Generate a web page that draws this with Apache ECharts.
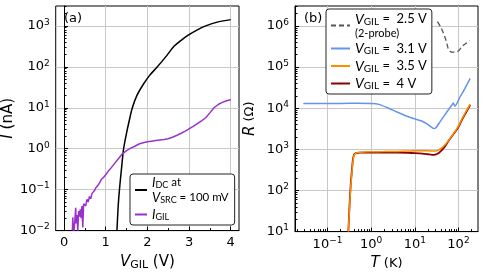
<!DOCTYPE html>
<html><head><meta charset="utf-8">
<script src="https://cdn.jsdelivr.net/npm/echarts@6/dist/echarts.min.js"></script>
<style>html,body{margin:0;padding:0;background:#fff}#c{width:485px;height:276px}</style>
</head><body><div id="c"></div>
<script>
// ---- Panel (a): I vs V_GIL ----
const vDC = [1.27,1.30,1.33,1.38,1.43,1.50,1.57,1.64,1.75,1.90,2.05,2.24,2.45,2.64,2.82,2.99,3.2,3.4,3.7,4.0];
const iDC = [0.01,0.04,0.1,0.33,1,2.4,5.1,10,20,37,61,100,180,316,450,600,800,1000,1250,1420];
const vGIL = [0.20,0.21,0.22,0.24,0.26,0.28,0.29,0.31,0.33,0.35,0.37,0.39,0.41,0.43,0.45,0.47,0.49,0.52,0.55,0.58,0.61,0.64,0.67,0.70,0.73,0.76,0.79,0.82,0.86,0.90,0.95,1.00,1.06,1.13,1.20,1.30,1.40,1.50,1.60,1.70,1.80,1.90,2.00,2.10,2.20,2.30,2.40,2.50,2.60,2.70,2.80,2.90,3.00,3.10,3.20,3.30,3.40,3.50,3.60,3.70,3.80,3.90,4.00];
const iGIL = [0.01,0.021,0.012,0.01,0.018,0.036,0.015,0.024,0.01,0.03,0.022,0.033,0.02,0.04,0.012,0.045,0.05,0.04,0.058,0.05,0.068,0.06,0.08,0.075,0.095,0.11,0.1,0.13,0.15,0.18,0.2,0.23,0.28,0.34,0.42,0.56,0.75,0.9,1.03,1.15,1.3,1.4,1.47,1.53,1.58,1.63,1.68,1.75,1.9,2.1,2.35,2.65,3.05,3.5,4.1,4.8,5.7,7.5,10,12,13.5,14.8,15.6];
const xTicksA = [0,1,2,3,4];
const xMinorA = [0.5,1.5,2.5,3.5];
const yTicksA = [0.01,0.1,1,10,100,1000];

// ---- Panel (b): R vs T ----
const tP25 = [33,40,45,50,54,59,65,72,80,91,105,118,140,160,180];
const rP25 = [1.27e6,9e5,6.7e5,5e5,3.8e5,2.7e5,2.4e5,2.3e5,2.3e5,2.35e5,2.6e5,3.1e5,3.6e5,4.0e5,4.4e5];
const t31 = [0.028,0.05,0.1,0.2,0.5,1.0,1.5,2.3,3.9,6.6,9.3,14.4,18.6,24.5,27,30,38,54,70,76,83,109,140,185];
const r31 = [1.3e4,1.3e4,1.3e4,1.31e4,1.32e4,1.3e4,1.24e4,1.04e4,8.1e3,6.4e3,5.6e3,4.9e3,4.2e3,3.4e3,3.2e3,3.3e3,4.7e3,8.1e3,1.18e4,1.34e4,1.12e4,1.9e4,3e4,5.3e4];
const t35 = [0.30,0.32,0.34,0.36,0.38,0.40,0.43,0.47,0.55,0.7,1.0,2,4,7,10,15,20,27,33,40,48,58,70,85,100,120,150,185];
const r35 = [10,40,120,250,480,680,780,830,855,865,875,880,890,905,920,925,920,905,930,1050,1250,1600,2100,2800,3700,5500,8500,12500];
const t40 = [0.30,0.32,0.34,0.36,0.38,0.40,0.43,0.47,0.55,0.7,1.0,2,4,7,10,15,20,27,33,40,48,58,70,85,100,120,150,185];
const r40 = [10,45,140,290,540,720,790,815,830,835,835,830,830,820,810,790,760,730,780,920,1150,1550,2050,2700,3500,5200,8000,12000];
const xTicksB = [0.1,1,10,100];
const yTicksB = [10,100,1000,1e4,1e5,1e6];

function minorLog(decades){const out=[];decades.forEach(d=>{for(let k=2;k<=9;k++)out.push(+(k*d).toPrecision(6));});return out;}
const xMinorB = minorLog([0.01,0.1,1,10,100]);
const yMinorA = minorLog([0.01,0.1,1,10,100,1000]);
const yMinorB = minorLog([10,100,1000,1e4,1e5,1e6]);

const zip = (a,b)=>a.map((x,i)=>[x,b[i]]);
const FONT = 'DejaVu Sans';
const LF = 'Lato';
const supFmt = v => { const e = Math.round(Math.log10(v)); return '{b|10}{s|' + (e<0 ? '\u2212' + (-e) : e) + '}'; };
const supRich = { b:{fontSize:13,fontFamily:FONT,color:'#000',lineHeight:16}, s:{fontSize:9,fontFamily:FONT,color:'#000',verticalAlign:'top',lineHeight:10} };
const nameRich = {
  i:{fontSize:15,fontStyle:'italic',fontFamily:FONT,color:'#000',lineHeight:18},
  sub:{fontSize:11,fontFamily:FONT,color:'#000',verticalAlign:'bottom',lineHeight:13},
  t:{fontSize:15,fontFamily:FONT,color:'#000',lineHeight:18},
  ts:{fontSize:13,fontFamily:FONT,color:'#000',lineHeight:18}
};
const legRich = {
  i:{fontSize:13,fontStyle:'italic',fontFamily:LF,color:'#000',lineHeight:15},
  sub:{fontSize:9,fontFamily:LF,color:'#000',verticalAlign:'bottom',lineHeight:10},
  t:{fontSize:11.5,fontFamily:LF,color:'#000',lineHeight:15},
  I:{fontSize:14,fontStyle:'italic',fontFamily:LF,color:'#000',lineHeight:15},
  S:{fontSize:10,fontFamily:LF,color:'#000',verticalAlign:'bottom',lineHeight:10},
  T:{fontSize:13,fontFamily:LF,color:'#000',lineHeight:15},
  p:{fontSize:11,fontFamily:LF,color:'#000',lineHeight:13}
};
const legendText = {
  idc: '{i|I}{sub|DC}{t| at}\n{i|V}{sub|SRC}{t| = 100 mV}',
  igil: '{i|I}{sub|GIL}',
  p25: '{I|V}{S|GIL}{T| =  2.5 V}\n{p|(2-probe)}',
  v31: '{I|V}{S|GIL}{T| =  3.1 V}',
  v35: '{I|V}{S|GIL}{T| =  3.5 V}',
  v40: '{I|V}{S|GIL}{T| =  4 V}'
};

const gridLine = {show:true,lineStyle:{color:'#c8c8c8',width:1}};
const axLine = {show:true,lineStyle:{color:'#000',width:1}};
function mainAxis(o){return Object.assign({axisLine:axLine,splitLine:gridLine,nameLocation:'middle',nameTextStyle:{rich:nameRich}},o);}
function minorAxis(o){return Object.assign({axisLine:{show:false},splitLine:{show:false},axisLabel:{show:false}},o);}
const majTick = vals => ({show:true,inside:true,length:4,customValues:vals,lineStyle:{color:'#000'}});
const minTick = vals => ({show:true,inside:true,length:2.5,customValues:vals,lineStyle:{color:'#000'}});

const option = {
  animation:false,
  grid:[
    {left:55,top:6,width:184,height:226,show:true,borderColor:'#000',borderWidth:1,backgroundColor:'transparent'},
    {left:295,top:6,width:183,height:226,show:true,borderColor:'#000',borderWidth:1,backgroundColor:'transparent'}
  ],
  xAxis:[
    mainAxis({gridIndex:0,type:'value',min:-0.2,max:4.2,position:'bottom',axisTick:majTick(xTicksA),
      axisLabel:{customValues:xTicksA,fontSize:13,fontFamily:FONT,color:'#000',margin:6},
      name:'{i|V}{sub|GIL}{t| (V)}',nameGap:22}),
    minorAxis({gridIndex:0,type:'value',min:-0.2,max:4.2,position:'bottom',axisTick:minTick(xMinorA)}),
    mainAxis({gridIndex:1,type:'log',min:0.018,max:280,position:'bottom',axisTick:majTick(xTicksB),
      axisLabel:{customValues:xTicksB,formatter:supFmt,rich:supRich,margin:5},
      name:'{i|T}{ts| (K)}',nameGap:22}),
    minorAxis({gridIndex:1,type:'log',min:0.018,max:280,position:'bottom',axisTick:minTick(xMinorB)})
  ],
  yAxis:[
    mainAxis({gridIndex:0,type:'log',min:0.01,max:3055,position:'left',axisTick:majTick(yTicksA),
      axisLabel:{customValues:yTicksA,formatter:supFmt,rich:supRich,margin:6},
      name:'{i|I}{t| (nA)}',nameGap:36}),
    minorAxis({gridIndex:0,type:'log',min:0.01,max:3055,position:'left',axisTick:minTick(yMinorA)}),
    mainAxis({gridIndex:1,type:'log',min:10,max:3055000,position:'left',axisTick:majTick(yTicksB),
      axisLabel:{customValues:yTicksB,formatter:supFmt,rich:supRich,margin:6},
      name:'{i|R}{ts| (\u03A9)}',nameGap:36}),
    minorAxis({gridIndex:1,type:'log',min:10,max:3055000,position:'left',axisTick:minTick(yMinorB)})
  ],
  legend:[
    {left:130,top:174,orient:'vertical',data:['idc','igil'],formatter:n=>legendText[n],selectedMode:false,
      backgroundColor:'#fff',borderColor:'#222',borderWidth:1,borderRadius:3,padding:[2,6,3,4],
      itemWidth:12,itemHeight:2,itemGap:3,textStyle:{rich:legRich}},
    {left:326,top:9,orient:'vertical',data:['p25','v31','v35','v40'],formatter:n=>legendText[n],selectedMode:false,
      backgroundColor:'#fff',borderColor:'#222',borderWidth:1,borderRadius:3,padding:[3,5,3,4],
      itemWidth:19,itemHeight:2,itemGap:3,textStyle:{rich:legRich}}
  ],
  graphic:[
    {type:'text',left:64,top:12,style:{text:'(a)',fontSize:13,fontFamily:FONT,fill:'#000'}},
    {type:'text',left:304,top:12,style:{text:'(b)',fontSize:13,fontFamily:FONT,fill:'#000'}}
  ],
  series:[
    {name:'idc',type:'line',xAxisIndex:0,yAxisIndex:0,data:zip(vDC,iDC),symbol:'none',smooth:0.3,lineStyle:{color:'#000',width:1.5},itemStyle:{color:'#000'},clip:true},
    {name:'igil',type:'line',xAxisIndex:0,yAxisIndex:0,data:zip(vGIL,iGIL),symbol:'none',lineStyle:{color:'#9932CC',width:1.5},itemStyle:{color:'#9932CC'},clip:true},
    {name:'p25',type:'line',xAxisIndex:2,yAxisIndex:2,data:zip(tP25,rP25),symbol:'none',smooth:0.3,lineStyle:{color:'#555',width:1.3,type:[5,3]},itemStyle:{color:'#555'},clip:true},
    {name:'v31',type:'line',xAxisIndex:2,yAxisIndex:2,data:zip(t31,r31),symbol:'none',smooth:0.2,lineStyle:{color:'#6495ED',width:1.5},itemStyle:{color:'#6495ED'},clip:true},
    {name:'v40',type:'line',xAxisIndex:2,yAxisIndex:2,data:zip(t40,r40),symbol:'none',smooth:0.2,lineStyle:{color:'#8B0000',width:1.8},itemStyle:{color:'#8B0000'},clip:true},
    {name:'v35',type:'line',xAxisIndex:2,yAxisIndex:2,data:zip(t35,r35),symbol:'none',smooth:0.2,lineStyle:{color:'#FF8C00',width:1.5},itemStyle:{color:'#FF8C00'},clip:true}
  ]
};
echarts.init(document.getElementById('c'),null,{renderer:'canvas'}).setOption(option);
</script></body></html>
